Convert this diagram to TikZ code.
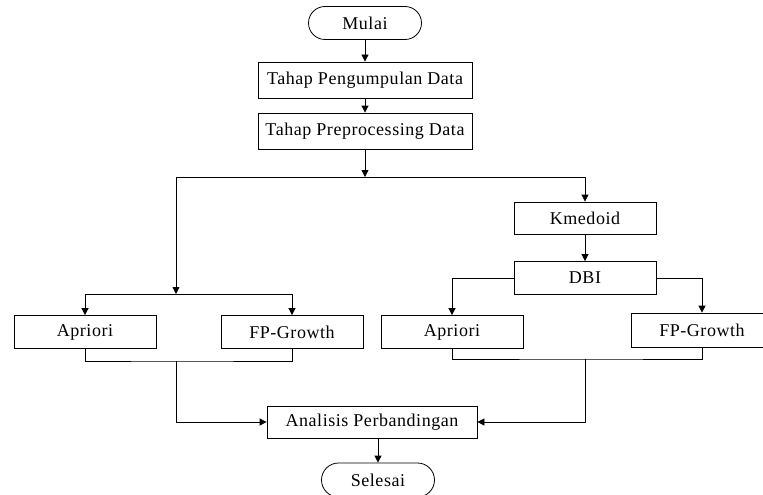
\documentclass[tikz,border=0pt]{standalone}
\usepackage{fontspec}
\setmainfont{Liberation Serif}
\usetikzlibrary{positioning, arrows.meta}

\begin{document}
\begin{tikzpicture}[
  x=1pt, y=-1pt,
  proc/.style={
    draw=black, fill=white, line width=0.8pt,
    minimum width=142pt, minimum height=33pt,
    font=\fontsize{18}{22}\selectfont\addfontfeature{LetterSpace=3},
    align=center, inner sep=0pt
  },
  term/.style={
    proc, rounded corners=16.5pt, minimum width=113pt
  },
  ln/.style={-, line width=0.8pt, black},
  arr/.style={-{Triangle[length=7pt, width=7pt]}, line width=0.8pt, black},
]
  \useasboundingbox (0,0) rectangle (763,495);

  % main column
  \node[term] (mulai) at (365,23) {Mulai};
  \node[proc, minimum width=214pt, minimum height=36pt] (kumpul) at (365,80) {Tahap Pengumpulan Data};
  \node[proc, minimum width=214pt, minimum height=36pt] (prep) at (365,131) {Tahap Preprocessing Data};

  % left branch
  \node[proc] (aprL) at (85,332) {Apriori};
  \node[proc] (fpL) at (292,332) {FP-Growth};

  % right branch
  \node[proc, minimum height=32pt] (kmed) at (585,218) {Kmedoid};
  \node[proc] (dbi) at (585,278) {DBI};
  \node[proc] (aprR) at (452,332) {Apriori};
  \node[proc, minimum height=34pt] (fpR) at (702,330) {FP-Growth};

  % end
  \node[proc, minimum width=210pt, minimum height=32pt] (anal) at (372,422) {Analisis Perbandingan};
  \node[term, minimum height=34pt, rounded corners=17pt] (sel) at (378,480) {Selesai};

  \coordinate (split) at (176,177);
  \coordinate (lfork) at (176,294);
  \coordinate (ljoin) at (176,361);
  \coordinate (rjoin) at (585,359);

  \draw[arr] (mulai) -- (kumpul);
  \draw[arr] (kumpul) -- (prep);
  \draw[arr] (prep) -- (prep.south |- split);
  \draw[arr] (split) -- (lfork);
  \draw[arr] (split) -| (kmed);
  \draw[arr] (lfork) -| (aprL);
  \draw[arr] (lfork) -| (fpL);
  \draw[arr] (kmed) -- (dbi);
  \draw[arr] (dbi) -| (aprR);
  \draw[arr] (dbi) -| (fpR);

  \draw[ln] (aprL) |- (ljoin) -| (fpL);
  \draw[ln] (aprR) |- (rjoin) -| (fpR);
  \draw[arr] (ljoin) |- (anal);
  \draw[arr] (rjoin) |- (anal);
  \draw[arr] (anal.south -| sel) -- (sel);
\end{tikzpicture}
\end{document}
